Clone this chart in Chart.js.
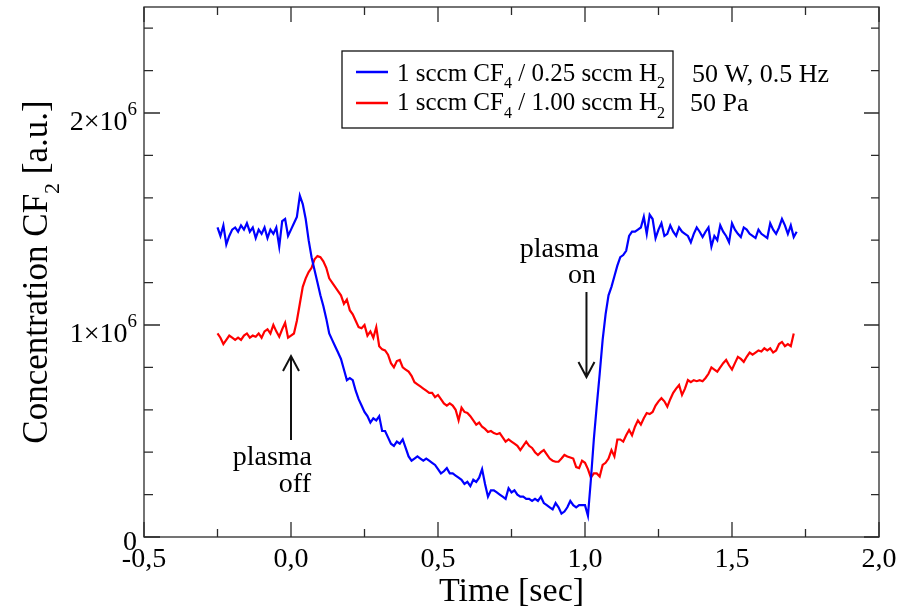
<!DOCTYPE html>
<html>
<head>
<meta charset="utf-8">
<script src="https://cdn.jsdelivr.net/npm/chart.js@4.4.0/dist/chart.umd.min.js"></script>
<style>
    body { margin: 0; background: #fff; }
</style>
</head>
<body>
<canvas id="graficoCF2" width="907" height="609"></canvas>
<script>
// Tiempo [s], paso de 0.01
const tiempo = [
    -0.25,-0.24,-0.23,-0.22,-0.21,-0.20,-0.19,-0.18,-0.17,-0.16,
    -0.15,-0.14,-0.13,-0.12,-0.11,-0.10,-0.09,-0.08,-0.07,-0.06,
    -0.05,-0.04,-0.03,-0.02,-0.01,0.00,0.01,0.02,0.03,0.04,
    0.05,0.06,0.07,0.08,0.09,0.10,0.11,0.12,0.13,0.14,
    0.15,0.16,0.17,0.18,0.19,0.20,0.21,0.22,0.23,0.24,
    0.25,0.26,0.27,0.28,0.29,0.30,0.31,0.32,0.33,0.34,
    0.35,0.36,0.37,0.38,0.39,0.40,0.41,0.42,0.43,0.44,
    0.45,0.46,0.47,0.48,0.49,0.50,0.51,0.52,0.53,0.54,
    0.55,0.56,0.57,0.58,0.59,0.60,0.61,0.62,0.63,0.64,
    0.65,0.66,0.67,0.68,0.69,0.70,0.71,0.72,0.73,0.74,
    0.75,0.76,0.77,0.78,0.79,0.80,0.81,0.82,0.83,0.84,
    0.85,0.86,0.87,0.88,0.89,0.90,0.91,0.92,0.93,0.94,
    0.95,0.96,0.97,0.98,0.99,1.00,1.01,1.02,1.03,1.04,
    1.05,1.06,1.07,1.08,1.09,1.10,1.11,1.12,1.13,1.14,
    1.15,1.16,1.17,1.18,1.19,1.20,1.21,1.22,1.23,1.24,
    1.25,1.26,1.27,1.28,1.29,1.30,1.31,1.32,1.33,1.34,
    1.35,1.36,1.37,1.38,1.39,1.40,1.41,1.42,1.43,1.44,
    1.45,1.46,1.47,1.48,1.49,1.50,1.51,1.52,1.53,1.54,
    1.55,1.56,1.57,1.58,1.59,1.60,1.61,1.62,1.63,1.64,
    1.65,1.66,1.67,1.68,1.69,1.70,1.71,1.72
];

// Concentracion CF2 en unidades de 10^6 (a.u.)
const concH2_025 = [
    1.46,1.42,1.47,1.38,1.42,1.45,1.46,1.44,1.47,1.45,
    1.48,1.44,1.46,1.41,1.45,1.43,1.46,1.41,1.45,1.43,
    1.46,1.37,1.49,1.50,1.42,1.45,1.48,1.51,1.61,1.57,
    1.50,1.40,1.32,1.26,1.20,1.14,1.09,1.03,0.96,0.93,
    0.90,0.87,0.84,0.79,0.74,0.75,0.74,0.69,0.65,0.62,
    0.59,0.57,0.54,0.56,0.55,0.57,0.50,0.50,0.47,0.44,
    0.43,0.45,0.44,0.46,0.42,0.38,0.36,0.37,0.38,0.37,
    0.36,0.37,0.36,0.35,0.34,0.32,0.30,0.31,0.325,0.30,
    0.30,0.29,0.28,0.27,0.25,0.26,0.24,0.27,0.26,0.28,
    0.32,0.25,0.19,0.22,0.22,0.21,0.20,0.19,0.18,0.23,
    0.21,0.22,0.20,0.19,0.19,0.18,0.18,0.17,0.18,0.17,
    0.19,0.16,0.15,0.14,0.13,0.16,0.14,0.11,0.12,0.14,
    0.17,0.15,0.14,0.15,0.15,0.15,0.10,0.27,0.46,0.62,
    0.77,0.93,1.05,1.14,1.18,1.23,1.28,1.32,1.33,1.35,
    1.42,1.44,1.44,1.45,1.46,1.51,1.43,1.52,1.50,1.41,
    1.45,1.48,1.42,1.43,1.47,1.44,1.42,1.46,1.44,1.43,
    1.42,1.39,1.43,1.46,1.44,1.415,1.44,1.46,1.37,1.42,
    1.40,1.47,1.44,1.42,1.39,1.48,1.45,1.43,1.415,1.46,
    1.45,1.43,1.42,1.41,1.45,1.43,1.42,1.41,1.48,1.45,
    1.43,1.46,1.50,1.47,1.43,1.47,1.415,1.44
];

const concH2_100 = [
    0.96,0.94,0.91,0.93,0.95,0.94,0.93,0.94,0.93,0.95,
    0.96,0.94,0.95,0.945,0.96,0.94,0.97,0.98,0.96,1.00,
    0.97,0.945,0.98,1.01,0.94,0.95,0.96,1.02,1.10,1.18,
    1.22,1.25,1.27,1.31,1.325,1.32,1.30,1.27,1.22,1.20,
    1.18,1.16,1.14,1.10,1.12,1.07,1.05,1.02,0.99,0.985,
    1.00,0.95,0.97,0.94,0.99,0.90,0.885,0.88,0.86,0.82,
    0.80,0.83,0.835,0.80,0.79,0.78,0.76,0.73,0.72,0.71,
    0.70,0.69,0.68,0.68,0.66,0.67,0.65,0.63,0.62,0.63,
    0.62,0.60,0.55,0.61,0.59,0.585,0.57,0.55,0.53,0.54,
    0.52,0.51,0.495,0.50,0.49,0.485,0.49,0.47,0.45,0.46,
    0.45,0.44,0.43,0.41,0.43,0.45,0.43,0.42,0.40,0.387,
    0.40,0.41,0.39,0.37,0.36,0.355,0.355,0.37,0.387,0.38,
    0.375,0.37,0.33,0.325,0.36,0.35,0.32,0.28,0.30,0.30,
    0.285,0.34,0.35,0.37,0.41,0.38,0.46,0.46,0.45,0.48,
    0.505,0.48,0.52,0.55,0.53,0.56,0.585,0.58,0.59,0.62,
    0.64,0.655,0.64,0.615,0.65,0.68,0.70,0.717,0.67,0.70,
    0.74,0.73,0.74,0.735,0.74,0.735,0.75,0.77,0.80,0.79,
    0.78,0.80,0.82,0.835,0.81,0.79,0.82,0.85,0.84,0.826,
    0.85,0.87,0.86,0.87,0.88,0.875,0.89,0.88,0.89,0.87,
    0.88,0.91,0.92,0.90,0.91,0.90,0.96,null
];

// Ejes
const ticksX = [-0.5, 0.0, 0.5, 1.0, 1.5, 2.0];
const etiquetasX = ['-0,5', '0,0', '0,5', '1,0', '1,5', '2,0'];
const ticksMenoresX = [-0.25, 0.25, 0.75, 1.25, 1.75];
const ticksY = [0, 1, 2];
const etiquetasY = ['0', '1×10', '2×10'];
const exponentesY = ['', '6', '6'];
const ticksMenoresY = [0.2, 0.4, 0.6, 0.8, 1.2, 1.4, 1.6, 1.8, 2.2, 2.4];

const fuente = "'Liberation Serif', 'Times New Roman', serif";

// Texto con subindices: partes [texto, esSubindice]
function textoConSub(ctx, partes, x, y, tam, tamSub, bajada) {
    let xAct = x;
    partes.forEach(p => {
        ctx.font = (p[1] ? tamSub : tam) + 'px ' + fuente;
        ctx.fillText(p[0], xAct, p[1] ? y + bajada : y);
        xAct += ctx.measureText(p[0]).width;
    });
}

function flecha(ctx, x, y1, y2) {
    // y2 es la punta
    const dir = y2 > y1 ? -1 : 1;
    ctx.beginPath();
    ctx.moveTo(x, y1);
    ctx.lineTo(x, y2);
    ctx.moveTo(x - 8, y2 + dir * 15);
    ctx.lineTo(x, y2);
    ctx.lineTo(x + 8, y2 + dir * 15);
    ctx.stroke();
}

const decoracion = {
    id: 'decoracion',
    afterDraw(chart) {
        const ctx = chart.ctx;
        const a = chart.chartArea;
        const sx = chart.scales.x;
        const sy = chart.scales.y;

        ctx.save();
        ctx.strokeStyle = '#2a2a2a';
        ctx.lineWidth = 1.3;
        ctx.strokeRect(a.left, a.top, a.right - a.left, a.bottom - a.top);

        // Ticks hacia adentro en los cuatro lados
        ctx.beginPath();
        ticksX.forEach(v => {
            const px = sx.getPixelForValue(v);
            ctx.moveTo(px, a.bottom); ctx.lineTo(px, a.bottom - 15);
            ctx.moveTo(px, a.top); ctx.lineTo(px, a.top + 15);
        });
        ticksMenoresX.forEach(v => {
            const px = sx.getPixelForValue(v);
            ctx.moveTo(px, a.bottom); ctx.lineTo(px, a.bottom - 8);
            ctx.moveTo(px, a.top); ctx.lineTo(px, a.top + 8);
        });
        ticksY.forEach(v => {
            const py = sy.getPixelForValue(v);
            ctx.moveTo(a.left, py); ctx.lineTo(a.left + 16, py);
            ctx.moveTo(a.right, py); ctx.lineTo(a.right - 15, py);
        });
        ticksMenoresY.forEach(v => {
            const py = sy.getPixelForValue(v);
            ctx.moveTo(a.left, py); ctx.lineTo(a.left + 9, py);
            ctx.moveTo(a.right, py); ctx.lineTo(a.right - 8, py);
        });
        ctx.stroke();

        ctx.fillStyle = '#000';
        ctx.textBaseline = 'alphabetic';

        // Etiquetas eje X
        ctx.font = '28px ' + fuente;
        ctx.textAlign = 'center';
        ticksX.forEach((v, i) => {
            ctx.fillText(etiquetasX[i], sx.getPixelForValue(v), a.bottom + 30);
        });

        // Etiquetas eje Y con exponente
        ticksY.forEach((v, i) => {
            const py = sy.getPixelForValue(v);
            ctx.textAlign = 'right';
            if (exponentesY[i]) {
                ctx.font = '19px ' + fuente;
                const anchoExp = ctx.measureText(exponentesY[i]).width;
                ctx.fillText(exponentesY[i], 137, py + 2);
                ctx.font = '28px ' + fuente;
                ctx.fillText(etiquetasY[i], 137 - anchoExp, py + 17);
            } else {
                ctx.font = '28px ' + fuente;
                ctx.fillText(etiquetasY[i], 137, py + 13);
            }
        });

        // Titulo eje X
        ctx.textAlign = 'center';
        ctx.font = '34px ' + fuente;
        ctx.fillText('Time [sec]', (a.left + a.right) / 2, 601);

        // Titulo eje Y (rotado, con subindice)
        ctx.save();
        ctx.translate(47, (a.top + a.bottom) / 2);
        ctx.rotate(-Math.PI / 2);
        ctx.textAlign = 'left';
        const partesY = [['Concentration CF', false], ['2', true], [' [a.u.]', false]];
        let ancho = 0;
        partesY.forEach(p => {
            ctx.font = (p[1] ? 22 : 35) + 'px ' + fuente;
            ancho += ctx.measureText(p[0]).width;
        });
        textoConSub(ctx, partesY, -ancho / 2, 0, 35, 22, 12);
        ctx.restore();

        // Leyenda
        ctx.strokeStyle = '#111';
        ctx.lineWidth = 1.3;
        ctx.strokeRect(342, 51, 331, 77);
        ctx.lineWidth = 2.5;
        ctx.strokeStyle = chart.data.datasets[0].borderColor;
        ctx.beginPath(); ctx.moveTo(356, 72); ctx.lineTo(388, 72); ctx.stroke();
        ctx.strokeStyle = chart.data.datasets[1].borderColor;
        ctx.beginPath(); ctx.moveTo(356, 103); ctx.lineTo(388, 103); ctx.stroke();

        ctx.textAlign = 'left';
        textoConSub(ctx, [['1 sccm CF', false], ['4', true], [' / 0.25 sccm H', false], ['2', true]], 397, 81, 25, 16, 7);
        textoConSub(ctx, [['1 sccm CF', false], ['4', true], [' / 1.00 sccm H', false], ['2', true]], 397, 110, 25, 16, 8);

        ctx.font = '26px ' + fuente;
        ctx.fillText('50 W, 0.5 Hz', 692, 82);
        ctx.fillText('50 Pa', 690, 111);

        // Anotaciones plasma off / on
        ctx.strokeStyle = '#111';
        ctx.lineWidth = 2;
        flecha(ctx, sx.getPixelForValue(0.0), 440, 356);
        flecha(ctx, sx.getPixelForValue(1.005), 292, 377);

        ctx.font = '28px ' + fuente;
        ctx.textAlign = 'right';
        ctx.fillText('plasma', 312, 465);
        ctx.fillText('off', 311, 492);
        ctx.fillText('plasma', 599, 257);
        ctx.fillText('on', 596, 283);

        ctx.restore();
    }
};

function mostrarGrafico() {
    const ctx = document.getElementById('graficoCF2').getContext('2d');

    new Chart(ctx, {
        type: 'line',
        data: {
            datasets: [{
                label: '1 sccm CF4 / 0.25 sccm H2',
                data: tiempo.map((t, i) => ({ x: t, y: concH2_025[i] })),
                borderColor: '#0000ff',
                borderWidth: 2.2,
                pointRadius: 0,
                tension: 0
            }, {
                label: '1 sccm CF4 / 1.00 sccm H2',
                data: tiempo.map((t, i) => ({ x: t, y: concH2_100[i] })),
                borderColor: '#ff0000',
                borderWidth: 2.2,
                pointRadius: 0,
                tension: 0
            }]
        },
        options: {
            responsive: false,
            animation: false,
            layout: { padding: { top: 7, right: 28, left: 0, bottom: 0 } },
            plugins: {
                legend: { display: false },
                tooltip: { enabled: false }
            },
            scales: {
                x: {
                    type: 'linear',
                    min: -0.5,
                    max: 2.0,
                    ticks: { display: false },
                    grid: { display: false, drawTicks: false },
                    border: { display: false },
                    afterFit: scale => { scale.height = 72; }
                },
                y: {
                    min: 0,
                    max: 2.5,
                    ticks: { display: false },
                    grid: { display: false, drawTicks: false },
                    border: { display: false },
                    afterFit: scale => { scale.width = 144; }
                }
            }
        },
        plugins: [decoracion]
    });
}

mostrarGrafico();
</script>
</body>
</html>
